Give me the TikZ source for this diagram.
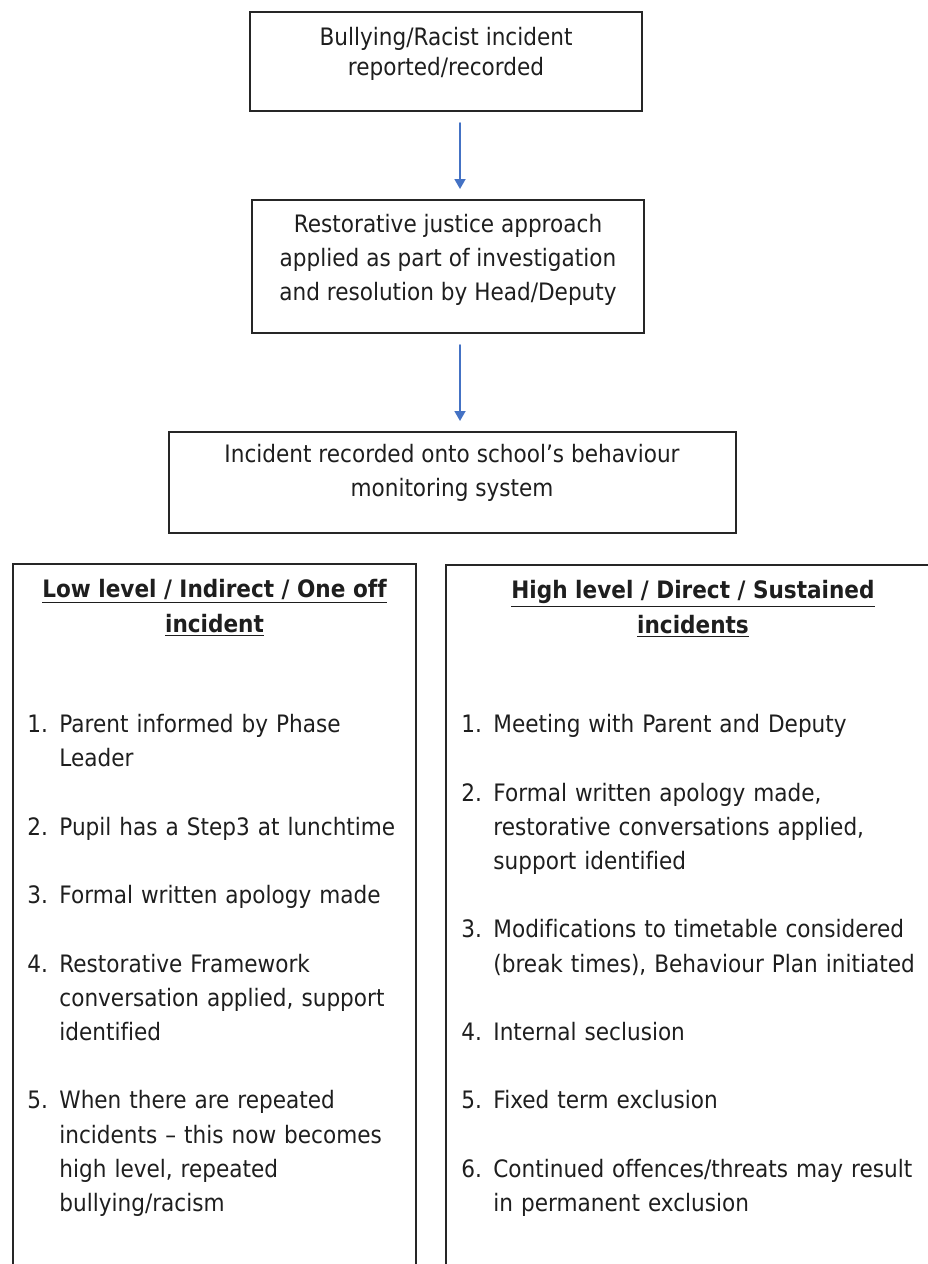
\documentclass[tikz,border=0pt]{standalone}
\usepackage{fontspec}
\setmainfont{DejaVu Sans}[FakeStretch=0.9,Ligatures=NoCommon]
\usetikzlibrary{arrows.meta,positioning}
\definecolor{flowblue}{RGB}{68,114,196}
\definecolor{inkgray}{RGB}{30,30,30}
\newcommand{\stepitem}[2]{\hangindent=16pt\hangafter=1\noindent\makebox[16pt][l]{#1}#2\par}

\begin{document}
\begin{tikzpicture}[x=0.5pt,y=-0.5pt,line cap=round,
		every node/.style={text=inkgray},
		box/.style={draw=black!85,line width=1pt,inner sep=0pt},
		boxtext/.style={anchor=north,inner sep=0pt,align=center,font=\fontsize{12}{17}\selectfont},
		head/.style={anchor=north,inner sep=0pt,align=center,font=\fontsize{12}{17.5}\selectfont\bfseries},
		steps/.style={anchor=north west,inner sep=0pt,align=left,font=\fontsize{12}{17.1}\selectfont},
		flow/.style={draw=flowblue,line width=0.9pt,-{Triangle[width=5.5pt,length=5pt]},
			shorten <=5.5pt,shorten >=5pt}]
	\useasboundingbox (0,0) rectangle (927,1264);
	\coordinate (axis) at (460,0);
	% the three steps at the top
	\node[box,minimum width=196pt,minimum height=49.5pt] (report) at (446,61.5) {};
	\node[boxtext,font=\fontsize{12}{15}\selectfont] (reporttxt) at (446,27)
		{Bullying/Racist incident\\reported/recorded};
	\node[box,minimum width=196pt,minimum height=66.5pt] (restore) at (448,266.5) {};
	\node[boxtext] (restoretxt) at (448,214)
		{Restorative justice approach\\applied as part of investigation\\and resolution by Head/Deputy};
	\node[box,minimum width=283.5pt,minimum height=50.5pt] (record) at (452,482.5) {};
	\node[boxtext] (recordtxt) at (452,444)
		{Incident recorded onto school’s behaviour\\monitoring system};
	\draw[flow] (report.south -| axis) -- (restore.north -| axis);
	\draw[flow] (restore.south -| axis) -- (record.north -| axis);
	% the two columns, cut off at the foot
	\node[box,minimum width=201.5pt,minimum height=363pt] (low) at (214.5,927) {};
	\node[box,minimum width=247pt,minimum height=363pt] (high) at (693,927.5) {};
	\node[head] (lowhead) at (214.5,579)
		{\underline{Low level / Indirect / One off}\\\underline{incident}};
	\node[head] (highhead) at (693,580)
		{\underline{High level / Direct / Sustained}\\\underline{incidents}};
	\node[steps,text width=200pt] (lowsteps) at (27,714) {%
		\setlength{\parskip}{17.1pt}%
		\stepitem{1.}{Parent informed by Phase\newline Leader}
		\stepitem{2.}{Pupil has a Step3 at lunchtime}
		\stepitem{3.}{Formal written apology made}
		\stepitem{4.}{Restorative Framework\newline conversation applied, support\newline identified}
		\stepitem{5.}{When there are repeated\newline incidents – this now becomes\newline high level, repeated\newline bullying/racism}};
	\node[steps,text width=235pt] (highsteps) at (461,714) {%
		\setlength{\parskip}{17.1pt}%
		\stepitem{1.}{Meeting with Parent and Deputy}
		\stepitem{2.}{Formal written apology made,\newline restorative conversations applied,\newline support identified}
		\stepitem{3.}{Modifications to timetable considered\newline (break times), Behaviour Plan initiated}
		\stepitem{4.}{Internal seclusion}
		\stepitem{5.}{Fixed term exclusion}
		\stepitem{6.}{Continued offences/threats may result\newline in permanent exclusion}};
\end{tikzpicture}
\end{document}
